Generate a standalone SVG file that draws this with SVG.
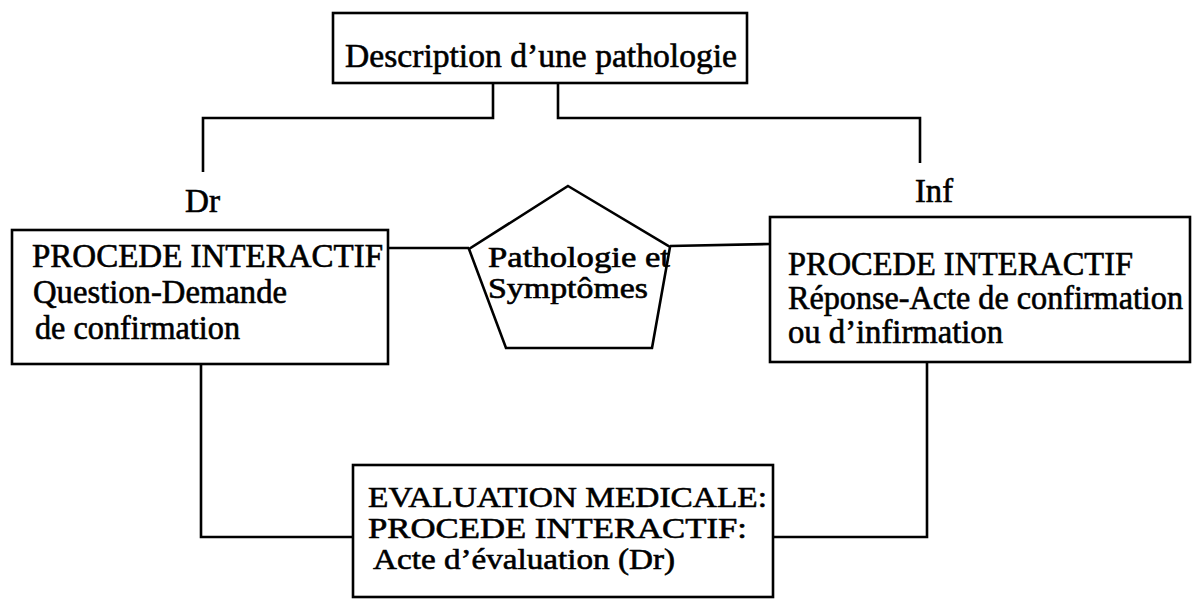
<svg xmlns="http://www.w3.org/2000/svg" width="1197" height="600" viewBox="0 0 1197 600">
  <style>
    .box { fill: #fff; stroke: #000; stroke-width: 2.6; }
    .wire { fill: none; stroke: #000; stroke-width: 2.6; stroke-linejoin: miter; }
    text { font-family: "Liberation Serif", "Times New Roman", serif; fill: #000; stroke: #000; stroke-width: 0.6; }
    .t34 { font-size: 34px; }
    .t33 { font-size: 33px; }
    .t30 { font-size: 30px; }
    .t29 { font-size: 29px; }
  </style>
  <rect width="1197" height="600" fill="#fff"/>

  <!-- connectors -->
  <g id="connectors">
    <polyline class="wire" points="493,83 493,118 203,118 203,172"/>
    <polyline class="wire" points="558,83 558,118 920,118 920,163"/>
    <line class="wire" x1="388" y1="248" x2="469" y2="248"/>
    <line class="wire" x1="670" y1="246" x2="770" y2="244"/>
    <polyline class="wire" points="201,364 201,537 353,537"/>
    <polyline class="wire" points="927,362 927,537 773,537"/>
  </g>

  <!-- role labels -->
  <g id="label-dr">
    <text class="t33" x="185" y="212" textLength="35" lengthAdjust="spacingAndGlyphs">Dr</text>
  </g>
  <g id="label-inf">
    <text class="t33" x="915" y="202" textLength="38" lengthAdjust="spacingAndGlyphs">Inf</text>
  </g>

  <!-- top node -->
  <g id="node-description">
    <rect class="box" x="333" y="13" width="414" height="70"/>
    <text class="t34" x="345" y="67" textLength="392" lengthAdjust="spacingAndGlyphs">Description d’une pathologie</text>
  </g>

  <!-- left node: doctor -->
  <g id="node-question">
    <rect class="box" x="12" y="230" width="376" height="134"/>
    <text class="t33" x="32" y="267" textLength="351" lengthAdjust="spacingAndGlyphs">PROCEDE INTERACTIF</text>
    <text class="t33" x="33" y="303" textLength="254" lengthAdjust="spacingAndGlyphs">Question-Demande</text>
    <text class="t33" x="35" y="339" textLength="205" lengthAdjust="spacingAndGlyphs">de confirmation</text>
  </g>

  <!-- centre node -->
  <g id="node-pathologie">
    <polygon class="box" points="568,186 670,247 652,348 506,348 469,249"/>
    <text class="t29" x="488" y="267" textLength="182" lengthAdjust="spacingAndGlyphs">Pathologie et</text>
    <text class="t29" x="488" y="298" textLength="160" lengthAdjust="spacingAndGlyphs">Symptômes</text>
  </g>

  <!-- right node: nurse -->
  <g id="node-reponse">
    <rect class="box" x="770" y="217" width="420" height="145"/>
    <text class="t33" x="788" y="275" textLength="345" lengthAdjust="spacingAndGlyphs">PROCEDE INTERACTIF</text>
    <text class="t33" x="788" y="309" textLength="395" lengthAdjust="spacingAndGlyphs">Réponse-Acte de confirmation</text>
    <text class="t33" x="788" y="343" textLength="215" lengthAdjust="spacingAndGlyphs">ou d’infirmation</text>
  </g>

  <!-- bottom node -->
  <g id="node-evaluation">
    <rect class="box" x="353" y="465" width="420" height="132"/>
    <text class="t30" x="368" y="507" textLength="399" lengthAdjust="spacingAndGlyphs">EVALUATION MEDICALE:</text>
    <text class="t30" x="368" y="538" textLength="379" lengthAdjust="spacingAndGlyphs">PROCEDE INTERACTIF:</text>
    <text class="t30" x="373" y="569" textLength="302" lengthAdjust="spacingAndGlyphs">Acte d’évaluation (Dr)</text>
  </g>
</svg>
